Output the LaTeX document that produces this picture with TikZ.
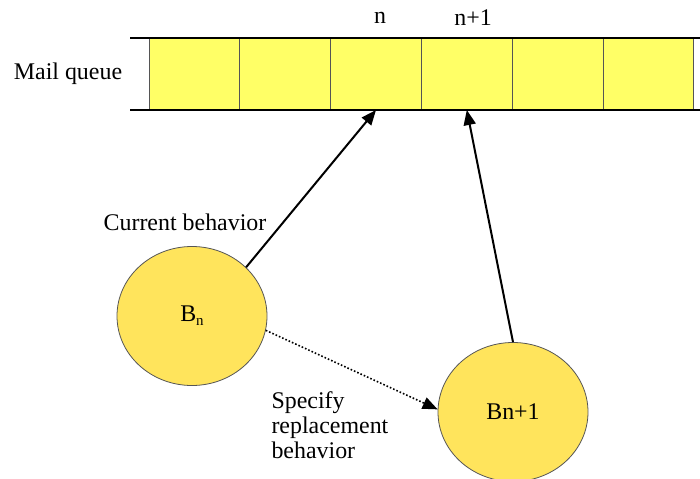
\documentclass[tikz,border=0pt]{standalone}
\usepackage{fontspec}
\setmainfont{Liberation Serif}
\usetikzlibrary{shapes.geometric,arrows.meta}
\definecolor{cellyellow}{HTML}{FFFF66}
\definecolor{ballyellow}{HTML}{FFE45C}
\definecolor{edgegray}{HTML}{555555}
\begin{document}
\begin{tikzpicture}[x=1bp,y=-1bp,
  every node/.style={font=\fontsize{24}{25}\selectfont},
  cell/.style={draw=edgegray,line width=0.8bp,fill=cellyellow,minimum width=90.8bp,minimum height=72bp,inner sep=0pt,outer sep=0pt},
  ball/.style={ellipse,draw=edgegray,line width=0.8bp,fill=ballyellow,minimum width=150bp,minimum height=139bp,inner sep=0pt},
  rail/.style={line width=2bp,black},
  arr/.style={line width=2bp,-{Triangle[length=15bp,width=12bp]}},
  darr/.style={line width=1.6bp,dotted,-{Triangle[length=15bp,width=12bp]}}]
\useasboundingbox (0,0) rectangle (700,479);
% cells
\node[cell] (c1) at (194.4,74) {};
\node[cell] (c2) at (285.2,74) {};
\node[cell] (c3) at (376.0,74) {};
\node[cell] (c4) at (466.8,74) {};
\node[cell] (c5) at (557.6,74) {};
\node[cell] (c6) at (648.4,74) {};
\coordinate (tl) at (130,38);
\coordinate (tr) at (700,38);
\coordinate (bl) at (130,110);
\coordinate (br) at (700,110);
\draw[rail] (tl) -- (tr);
\draw[rail] (bl) -- (br);
% labels
\node (mq) at (68,74) {Mail queue};
\node (ln) at (380,18) {n};
\node (ln1) at (473,18) {n+1};
% behaviours
\node[ball] (bn) at (192,316) {B\raisebox{-0.35ex}{\fontsize{15}{15}\selectfont n}};
\node[ball] (bn1) at (513,412) {Bn+1};
\node (cb) at (185,222) {Current behavior};
\node[align=left,anchor=west] (srb) at (268,425) {Specify\\replacement\\behavior};
% connectors
\draw[arr] (bn.42) -- (c3.south);
\draw[arr] (bn1.90) -- (c4.south);
\draw[darr] (bn.-11) -- (bn1.178);
\end{tikzpicture}
\end{document}
